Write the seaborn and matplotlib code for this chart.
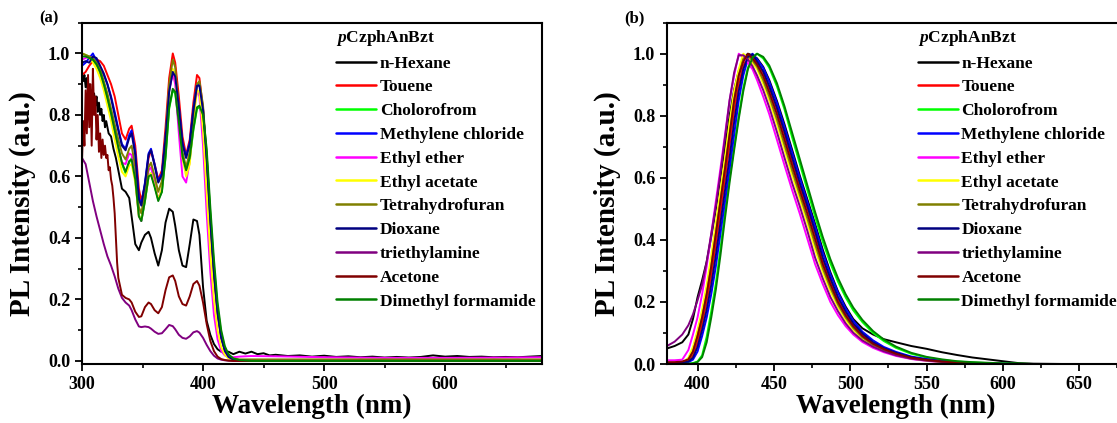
import matplotlib
matplotlib.use("Agg")
import matplotlib.pyplot as plt
import seaborn as sns
from matplotlib.ticker import MultipleLocator

# ---------------- data : panel (a) ----------------
wl_a = [300, 303, 306, 309, 312, 315, 318, 321, 324, 327,
        330, 333, 336, 339, 341, 344, 347, 349, 352, 355,
        357, 360, 363, 366, 369, 372, 375, 377, 380, 383,
        386, 389, 392, 395, 397, 400, 403, 406, 409, 412,
        415, 418, 421, 425, 430, 440, 460, 500, 550, 600,
        650, 680]

wl_hex_a = [300, 301, 302, 303, 304, 305, 306, 307, 308, 309,
            310, 311, 312, 313, 314, 315, 316, 317, 318, 319,
            320, 322, 324, 326, 328, 330,
            333, 336, 339, 341, 344, 347, 349, 352, 355, 357,
            360, 363, 366, 369, 372, 375, 377, 380, 383, 386,
            389, 392, 395, 397, 400, 403, 406, 409, 412, 415,
            418, 421, 425, 430, 435, 440, 445, 450, 455, 460,
            470, 480, 490, 500, 510, 520, 530, 540, 550, 560,
            570, 580, 590, 600, 610, 620, 630, 640, 650, 660,
            670, 680]
hexane_a = [0.93, 0.91, 0.93, 0.89, 0.92, 0.87, 0.90, 0.86, 0.88, 0.84,
            0.87, 0.83, 0.86, 0.81, 0.84, 0.80, 0.82, 0.78, 0.80, 0.76,
            0.78, 0.74, 0.73, 0.69, 0.66, 0.62,
            0.56, 0.55, 0.53, 0.47, 0.38, 0.36, 0.385, 0.41, 0.42, 0.40,
            0.35, 0.31, 0.36, 0.45, 0.495, 0.485, 0.44, 0.36, 0.31, 0.305,
            0.38, 0.46, 0.455, 0.41, 0.24, 0.13, 0.085, 0.055, 0.038, 0.030,
            0.028, 0.030, 0.022, 0.030, 0.024, 0.030, 0.022, 0.025, 0.018, 0.020,
            0.016, 0.018, 0.014, 0.017, 0.013, 0.015, 0.012, 0.014, 0.011, 0.013,
            0.011, 0.013, 0.018, 0.014, 0.016, 0.013, 0.014, 0.012, 0.013, 0.012,
            0.014, 0.016]

wl_ace_a = [300, 301, 302, 303, 304, 305, 306, 307, 308, 309,
            310, 311, 312, 313, 314, 315, 316, 317, 318, 319,
            320, 321, 322, 323, 324, 325, 326, 327, 328, 329,
            330,
            333, 336, 339, 341, 344, 347, 349, 352, 355, 357,
            360, 363, 366, 369, 372, 375, 377, 380, 383, 386,
            389, 392, 395, 397, 400, 403, 406, 409, 412, 415,
            418, 421, 425, 430, 440, 460, 500, 550, 600, 650,
            680]
acetone_a = [0.65, 0.78, 0.70, 0.88, 0.74, 0.93, 0.76, 0.90, 0.70, 0.95,
             0.80, 0.86, 0.72, 0.80, 0.68, 0.74, 0.66, 0.72, 0.67, 0.70,
             0.66, 0.67, 0.62, 0.63, 0.59, 0.57, 0.53, 0.48, 0.40, 0.32,
             0.27,
             0.215, 0.205, 0.20, 0.19, 0.16, 0.143, 0.145, 0.175, 0.19, 0.185,
             0.165, 0.155, 0.175, 0.23, 0.272, 0.278, 0.26, 0.21, 0.185, 0.18,
             0.21, 0.25, 0.26, 0.245, 0.19, 0.12, 0.065, 0.032, 0.014, 0.006,
             0.003, 0.001, 0.0, 0.0, 0.0, 0.0, 0.0, 0.0, 0.0, 0.0,
             0.0]

toluene_a = [0.93, 0.94, 0.96, 0.975, 0.98, 0.975, 0.96, 0.93, 0.90, 0.86,
             0.80, 0.74, 0.72, 0.755, 0.765, 0.70, 0.56, 0.52, 0.57, 0.66,
             0.685, 0.64, 0.59, 0.62, 0.76, 0.92, 1.00, 0.97, 0.86, 0.73,
             0.67, 0.72, 0.84, 0.93, 0.92, 0.82, 0.64, 0.44, 0.27, 0.15,
             0.075, 0.034, 0.015, 0.005, 0.002, 0.001, 0.0, 0.0, 0.0, 0.0,
             0.0, 0.0]
chloroform_a = [1.00, 0.995, 0.99, 0.98, 0.96, 0.935, 0.895, 0.85, 0.80, 0.745,
                0.69, 0.64, 0.61, 0.645, 0.66, 0.60, 0.475, 0.455, 0.52, 0.60,
                0.61, 0.57, 0.525, 0.55, 0.66, 0.82, 0.88, 0.87, 0.77, 0.66,
                0.62, 0.655, 0.75, 0.82, 0.825, 0.79, 0.67, 0.48, 0.31, 0.175,
                0.09, 0.042, 0.019, 0.007, 0.002, 0.001, 0.001, 0.001, 0.001, 0.001,
                0.001, 0.001]
dcm_a = [0.96, 0.97, 0.985, 1.00, 0.975, 0.95, 0.93, 0.90, 0.86, 0.81,
         0.755, 0.705, 0.69, 0.735, 0.75, 0.68, 0.53, 0.51, 0.58, 0.675,
         0.69, 0.64, 0.585, 0.61, 0.73, 0.88, 0.945, 0.93, 0.83, 0.71,
         0.665, 0.71, 0.82, 0.90, 0.90, 0.82, 0.66, 0.46, 0.29, 0.16,
         0.08, 0.035, 0.015, 0.005, 0.001, 0.0, 0.0, 0.0, 0.0, 0.0,
         0.0, 0.0]
ether_a = [0.98, 0.985, 0.99, 0.985, 0.965, 0.94, 0.90, 0.855, 0.80, 0.74,
           0.69, 0.645, 0.64, 0.675, 0.67, 0.59, 0.47, 0.455, 0.53, 0.62,
           0.63, 0.58, 0.525, 0.56, 0.70, 0.88, 0.935, 0.90, 0.74, 0.60,
           0.58, 0.65, 0.80, 0.88, 0.86, 0.70, 0.48, 0.29, 0.15, 0.07,
           0.032, 0.018, 0.013, 0.012, 0.014, 0.016, 0.015, 0.012, 0.010, 0.010,
           0.011, 0.012]
acetate_a = [1.00, 0.995, 0.985, 0.97, 0.95, 0.92, 0.88, 0.83, 0.78, 0.72,
             0.665, 0.615, 0.60, 0.635, 0.64, 0.58, 0.47, 0.46, 0.525, 0.60,
             0.61, 0.57, 0.525, 0.56, 0.70, 0.88, 0.95, 0.93, 0.80, 0.66,
             0.60, 0.64, 0.78, 0.88, 0.875, 0.75, 0.55, 0.35, 0.20, 0.10,
             0.045, 0.02, 0.008, 0.003, 0.001, 0.0, 0.0, 0.0, 0.0, 0.0,
             0.0, 0.0]
thf_a = [1.00, 0.995, 0.99, 0.985, 0.97, 0.95, 0.91, 0.87, 0.82, 0.77,
         0.72, 0.675, 0.655, 0.69, 0.70, 0.63, 0.50, 0.48, 0.55, 0.63,
         0.645, 0.60, 0.55, 0.585, 0.72, 0.90, 0.98, 0.955, 0.82, 0.68,
         0.63, 0.68, 0.80, 0.90, 0.91, 0.83, 0.67, 0.47, 0.30, 0.165,
         0.08, 0.036, 0.016, 0.008, 0.005, 0.005, 0.005, 0.005, 0.005, 0.005,
         0.005, 0.005]
dioxane_a = [0.97, 0.975, 0.97, 0.99, 0.985, 0.96, 0.935, 0.90, 0.855, 0.80,
             0.75, 0.70, 0.685, 0.725, 0.74, 0.67, 0.525, 0.505, 0.575, 0.67,
             0.685, 0.635, 0.58, 0.605, 0.725, 0.875, 0.94, 0.925, 0.825, 0.705,
             0.66, 0.705, 0.815, 0.895, 0.895, 0.815, 0.655, 0.455, 0.285, 0.155,
             0.075, 0.033, 0.013, 0.004, 0.001, 0.0, 0.0, 0.0, 0.0, 0.0,
             0.0, 0.0]
tea_a = [0.66, 0.64, 0.58, 0.52, 0.47, 0.425, 0.38, 0.34, 0.31, 0.275,
         0.235, 0.205, 0.19, 0.18, 0.165, 0.135, 0.112, 0.11, 0.112, 0.11,
         0.105, 0.095, 0.088, 0.09, 0.103, 0.117, 0.113, 0.103, 0.085, 0.075,
         0.072, 0.08, 0.093, 0.097, 0.092, 0.075, 0.052, 0.032, 0.017, 0.008,
         0.004, 0.002, 0.001, 0.0, 0.0, 0.0, 0.0, 0.0, 0.0, 0.0,
         0.0, 0.0]
dmf_a = [0.99, 0.99, 0.985, 0.98, 0.965, 0.94, 0.90, 0.855, 0.805, 0.75,
         0.695, 0.645, 0.615, 0.65, 0.655, 0.59, 0.47, 0.455, 0.52, 0.60,
         0.605, 0.565, 0.52, 0.55, 0.665, 0.825, 0.885, 0.875, 0.775, 0.665,
         0.62, 0.66, 0.755, 0.825, 0.83, 0.80, 0.69, 0.50, 0.33, 0.19,
         0.10, 0.048, 0.022, 0.008, 0.003, 0.0, 0.0, 0.0, 0.0, 0.0,
         0.0, 0.0]

# ---------------- data : panel (b) ----------------
wl_b = [380, 385, 390, 394, 397, 400, 403, 406, 409, 412,
        415, 418, 421, 424, 427, 430, 433, 436, 439, 443,
        447, 452, 457, 462, 467, 472, 477, 482, 487, 492,
        497, 502, 508, 515, 522, 530, 540, 550, 560, 570,
        580, 590, 600, 610, 620, 640, 680]
hexane_b = [0.050, 0.058, 0.070, 0.095, 0.145, 0.215, 0.270, 0.330, 0.410, 0.500,
            0.600, 0.700, 0.800, 0.885, 0.945, 0.985, 1.000, 0.995, 0.985, 0.958,
            0.915, 0.848, 0.772, 0.690, 0.607, 0.530, 0.452, 0.369, 0.296, 0.234,
            0.185, 0.145, 0.115, 0.095, 0.080, 0.070, 0.058, 0.049, 0.038, 0.029,
            0.021, 0.015, 0.009, 0.003, 0.001, 0.000, 0.000]
toluene_b = [0.004, 0.004, 0.005, 0.010, 0.028, 0.070, 0.130, 0.200, 0.285, 0.385,
             0.490, 0.595, 0.705, 0.815, 0.905, 0.960, 0.993, 0.995, 0.970, 0.940,
             0.890, 0.820, 0.740, 0.655, 0.575, 0.500, 0.420, 0.335, 0.270, 0.210,
             0.165, 0.128, 0.095, 0.068, 0.050, 0.035, 0.021, 0.014, 0.009, 0.005,
             0.003, 0.001, 0.000, 0.000, 0.000, 0.000, 0.000]
chloroform_b = [0.000, 0.000, 0.000, 0.001, 0.003, 0.008, 0.028, 0.088, 0.170, 0.260,
                0.370, 0.490, 0.600, 0.700, 0.800, 0.890, 0.955, 0.990, 1.000, 0.985,
                0.955, 0.895, 0.820, 0.730, 0.645, 0.560, 0.475, 0.395, 0.325, 0.265,
                0.215, 0.173, 0.135, 0.100, 0.074, 0.052, 0.033, 0.021, 0.013, 0.008,
                0.005, 0.003, 0.002, 0.001, 0.000, 0.000, 0.000]
dcm_b = [0.002, 0.002, 0.003, 0.006, 0.014, 0.040, 0.090, 0.150, 0.225, 0.315,
         0.420, 0.525, 0.630, 0.740, 0.850, 0.930, 0.983, 1.000, 0.982, 0.955,
         0.910, 0.842, 0.764, 0.682, 0.600, 0.522, 0.444, 0.360, 0.290, 0.230,
         0.180, 0.140, 0.104, 0.076, 0.055, 0.039, 0.024, 0.016, 0.010, 0.006,
         0.003, 0.002, 0.001, 0.000, 0.000, 0.000, 0.000]
ether_b = [0.012, 0.012, 0.014, 0.045, 0.095, 0.150, 0.225, 0.315, 0.420, 0.525,
           0.630, 0.740, 0.850, 0.930, 1.000, 0.988, 0.970, 0.950, 0.915, 0.862,
           0.805, 0.723, 0.640, 0.560, 0.484, 0.403, 0.322, 0.258, 0.200, 0.157,
           0.122, 0.095, 0.071, 0.052, 0.038, 0.026, 0.016, 0.010, 0.006, 0.004,
           0.002, 0.001, 0.000, 0.000, 0.000, 0.000, 0.000]
acetate_b = [0.003, 0.003, 0.004, 0.020, 0.055, 0.110, 0.175, 0.255, 0.350, 0.455,
             0.560, 0.665, 0.780, 0.880, 0.950, 1.000, 0.988, 0.970, 0.950, 0.903,
             0.848, 0.772, 0.690, 0.607, 0.530, 0.452, 0.369, 0.296, 0.234, 0.183,
             0.142, 0.110, 0.082, 0.060, 0.044, 0.030, 0.018, 0.011, 0.007, 0.004,
             0.002, 0.001, 0.000, 0.000, 0.000, 0.000, 0.000]
thf_b = [0.002, 0.002, 0.003, 0.012, 0.040, 0.090, 0.150, 0.225, 0.315, 0.420,
         0.525, 0.630, 0.740, 0.850, 0.930, 0.983, 0.995, 0.978, 0.958, 0.915,
         0.862, 0.788, 0.706, 0.623, 0.545, 0.468, 0.386, 0.309, 0.246, 0.192,
         0.150, 0.116, 0.086, 0.062, 0.046, 0.031, 0.019, 0.012, 0.007, 0.004,
         0.002, 0.001, 0.000, 0.000, 0.000, 0.000, 0.000]
dioxane_b = [0.003, 0.003, 0.004, 0.008, 0.020, 0.055, 0.110, 0.175, 0.255, 0.350,
             0.455, 0.560, 0.665, 0.780, 0.880, 0.950, 0.990, 0.998, 0.975, 0.943,
             0.895, 0.826, 0.748, 0.665, 0.583, 0.508, 0.428, 0.343, 0.276, 0.216,
             0.170, 0.131, 0.098, 0.070, 0.051, 0.036, 0.022, 0.014, 0.009, 0.005,
             0.003, 0.001, 0.000, 0.000, 0.000, 0.000, 0.000]
tea_b = [0.058, 0.072, 0.095, 0.125, 0.160, 0.205, 0.255, 0.330, 0.420, 0.510,
         0.615, 0.730, 0.850, 0.940, 0.995, 0.995, 0.982, 0.960, 0.930, 0.883,
         0.827, 0.748, 0.664, 0.583, 0.508, 0.428, 0.343, 0.276, 0.216, 0.170,
         0.131, 0.101, 0.076, 0.056, 0.041, 0.028, 0.017, 0.011, 0.007, 0.004,
         0.002, 0.001, 0.000, 0.000, 0.000, 0.000, 0.000]
acetone_b = [0.006, 0.006, 0.008, 0.015, 0.040, 0.090, 0.150, 0.225, 0.315, 0.420,
             0.525, 0.630, 0.740, 0.850, 0.930, 0.975, 1.000, 0.985, 0.965, 0.928,
             0.876, 0.805, 0.723, 0.640, 0.560, 0.484, 0.403, 0.322, 0.258, 0.200,
             0.157, 0.122, 0.090, 0.065, 0.048, 0.033, 0.020, 0.013, 0.008, 0.005,
             0.003, 0.001, 0.000, 0.000, 0.000, 0.000, 0.000]
dmf_b = [0.000, 0.000, 0.000, 0.001, 0.002, 0.006, 0.022, 0.070, 0.150, 0.240,
         0.350, 0.470, 0.585, 0.690, 0.790, 0.880, 0.950, 0.987, 1.000, 0.990,
         0.962, 0.905, 0.830, 0.745, 0.660, 0.575, 0.490, 0.410, 0.338, 0.277,
         0.225, 0.182, 0.142, 0.106, 0.079, 0.056, 0.036, 0.023, 0.015, 0.009,
         0.006, 0.004, 0.002, 0.001, 0.000, 0.000, 0.000]

labels = ["n-Hexane", "Touene", "Cholorofrom", "Methylene chloride",
          "Ethyl ether", "Ethyl acetate", "Tetrahydrofuran", "Dioxane",
          "triethylamine", "Acetone", "Dimethyl formamide"]
colors = ["#000000", "#FF0000", "#00FF00", "#0000FF", "#FF00FF", "#FFFF00",
          "#808000", "#000080", "#800080", "#800000", "#008000"]

panel_a = [(wl_hex_a, hexane_a), (wl_a, toluene_a), (wl_a, chloroform_a),
           (wl_a, dcm_a), (wl_a, ether_a), (wl_a, acetate_a), (wl_a, thf_a),
           (wl_a, dioxane_a), (wl_a, tea_a), (wl_ace_a, acetone_a), (wl_a, dmf_a)]
panel_b = [(wl_b, hexane_b), (wl_b, toluene_b), (wl_b, chloroform_b),
           (wl_b, dcm_b), (wl_b, ether_b), (wl_b, acetate_b), (wl_b, thf_b),
           (wl_b, dioxane_b), (wl_b, tea_b), (wl_b, acetone_b), (wl_b, dmf_b)]

# ---------------- style ----------------
sns.set_theme(style="ticks")
plt.rcParams['font.family'] = ['Liberation Serif', 'DejaVu Serif']
plt.rcParams['font.weight'] = 'bold'
plt.rcParams['axes.labelweight'] = 'bold'
plt.rcParams['mathtext.fontset'] = 'custom'
plt.rcParams['mathtext.it'] = 'Liberation Serif:italic:bold'
plt.rcParams['mathtext.rm'] = 'Liberation Serif:bold'
for k in ['text.color', 'axes.labelcolor', 'xtick.color', 'ytick.color', 'axes.edgecolor']:
    plt.rcParams[k] = 'black'

W, H = 1117, 423
fig = plt.figure(figsize=(W / 100, H / 100), dpi=100)
ax_a = fig.add_axes([82 / W, (H - 364) / H, 460 / W, 341.3 / H])
ax_b = fig.add_axes([667 / W, (H - 364) / H, 458 / W, 341.3 / H])

for ax, data in ((ax_a, panel_a), (ax_b, panel_b)):
    for (x, y), lab, c in zip(data, labels, colors):
        sns.lineplot(x=x, y=y, ax=ax, color=c, label=lab, linewidth=1.4,
                     estimator=None, sort=False)

ax_a.set_xlim(300, 680)
ax_a.set_ylim(-0.01, 1.1)
ax_a.xaxis.set_major_locator(MultipleLocator(100))
ax_a.xaxis.set_minor_locator(MultipleLocator(50))
ax_b.set_xlim(380, 680)
ax_b.set_ylim(0, 1.1)
ax_b.xaxis.set_major_locator(MultipleLocator(50))
ax_b.xaxis.set_minor_locator(MultipleLocator(25))

for ax, lx in ((ax_a, 0.553), (ax_b, 0.548)):
    ax.yaxis.set_major_locator(MultipleLocator(0.2))
    ax.yaxis.set_minor_locator(MultipleLocator(0.1))
    ax.tick_params(which='major', direction='out', length=5, width=1.3, labelsize=13)
    ax.tick_params(which='minor', direction='out', length=3, width=1.2)
    for s in ax.spines.values():
        s.set_linewidth(1.5)
        s.set_color('black')
    ax.set_xlabel("Wavelength (nm)", fontsize=19.5, fontweight='bold', labelpad=1)
    ax.set_ylabel("PL Intensity (a.u.)", fontsize=21, fontweight='bold')
    ax.yaxis.set_label_coords(-0.1, 0.47)
    leg = ax.legend(title=r"$\mathit{p}$CzphAnBzt", loc='upper left',
                    bbox_to_anchor=(lx, 0.985), frameon=False, fontsize=12.5,
                    title_fontsize=12.5, handlelength=2.3, handletextpad=0.2,
                    labelspacing=0.44, borderpad=0, borderaxespad=0,
                    alignment='left')
    leg.get_title().set_fontweight('bold')
    for t in leg.get_texts():
        t.set_fontweight('bold')
    for h in leg.get_lines():
        h.set_linewidth(1.8)

fig.text(49 / W, 1 - 18 / H, "(a)", ha='center', va='center', fontsize=12, fontweight='bold')
fig.text(634 / W, 1 - 18 / H, "(b)", ha='center', va='center', fontsize=12, fontweight='bold')

fig.savefig("out.png", dpi=100)
